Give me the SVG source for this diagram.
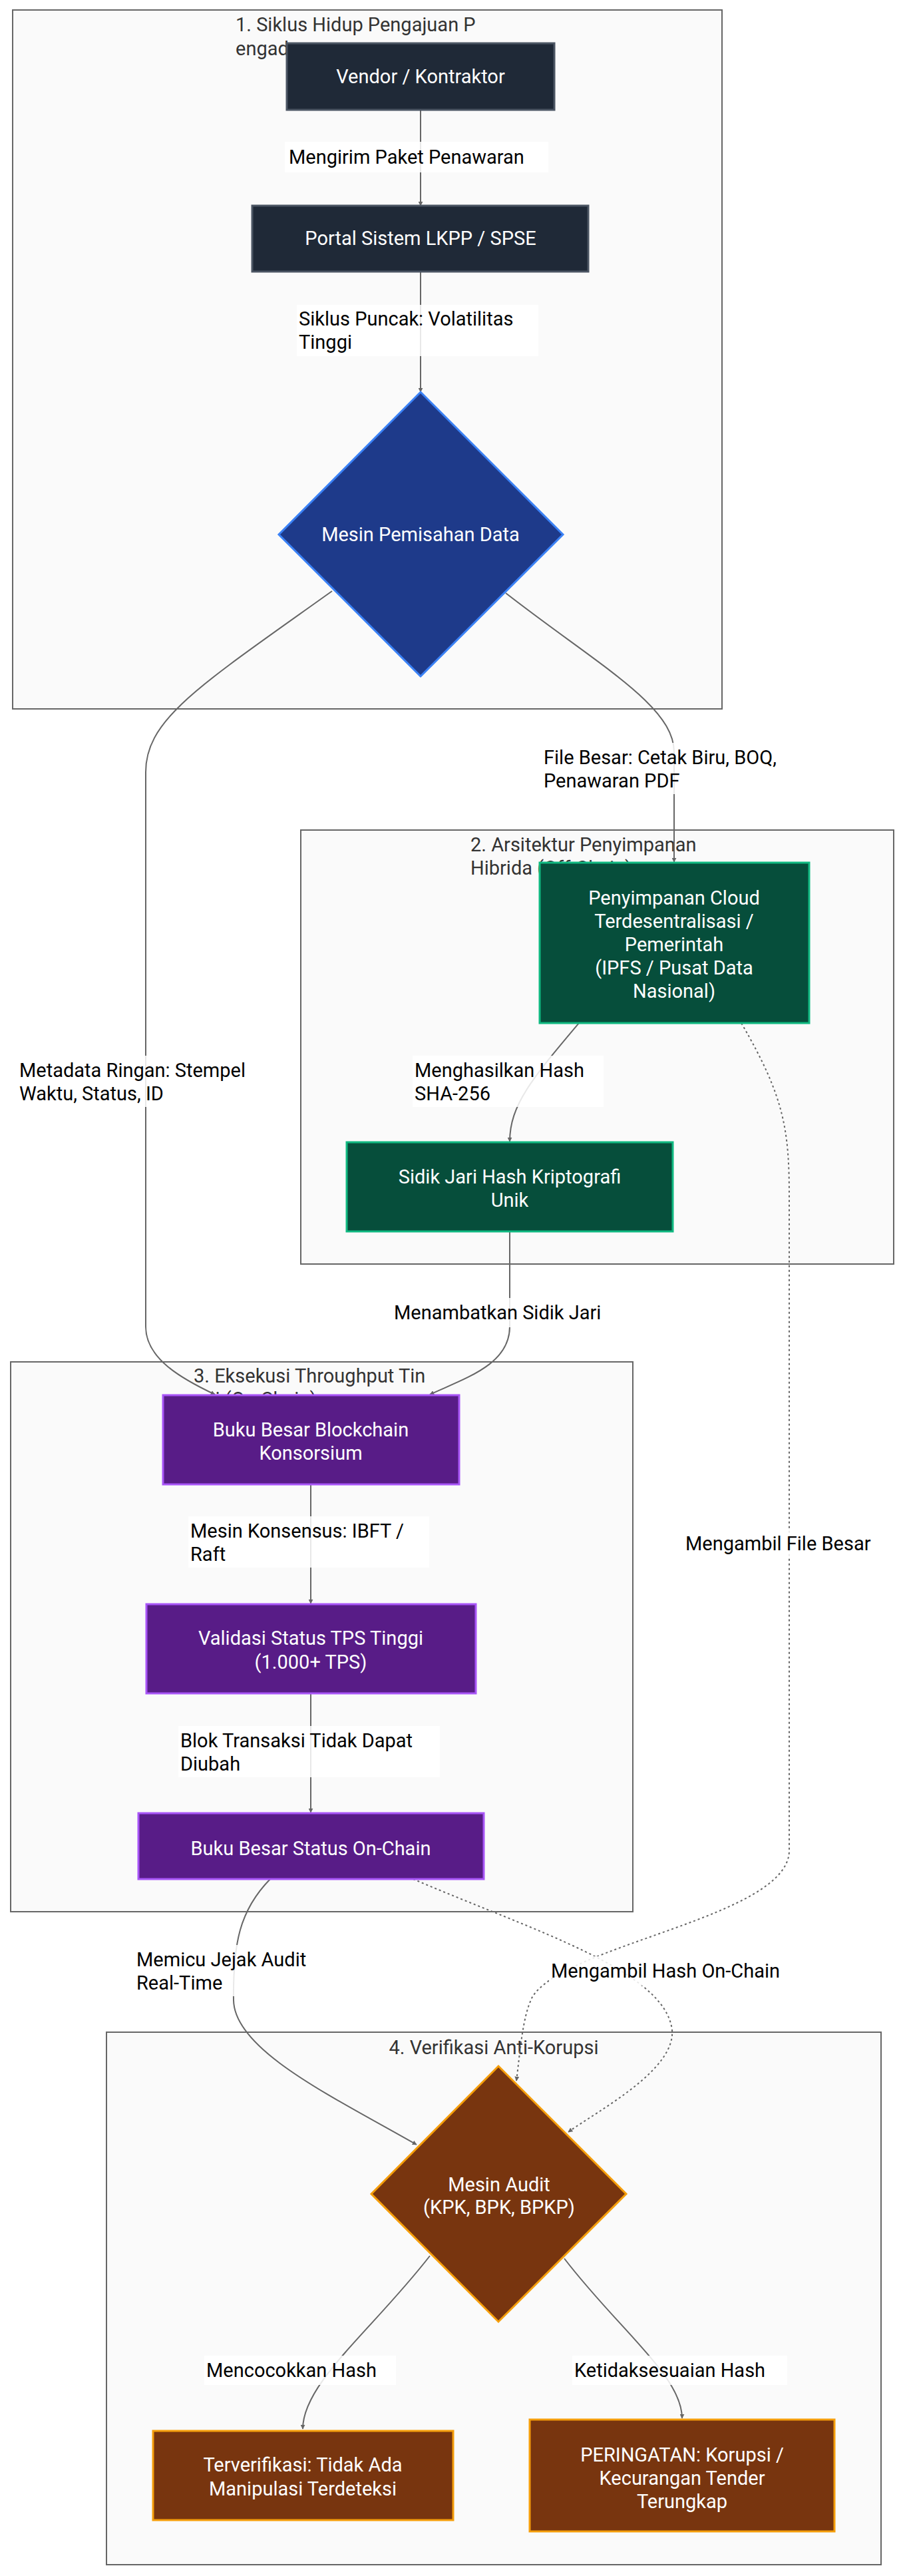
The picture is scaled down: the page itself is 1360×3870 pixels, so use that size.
<svg xmlns="http://www.w3.org/2000/svg" width="1360" height="3870" viewBox="0 0 1360 3870">
<style>
text{font-family:Roboto,"Liberation Sans",sans-serif;font-size:29px}
.cl{fill:#fafafa;stroke:#666;stroke-width:2}
.ct{fill:#333}
.nt{fill:#fff;text-anchor:middle}
.lt{fill:#000}
.lb{fill:#fff;opacity:0.85}
.dk{fill:#1f2937;stroke:#4b5563;stroke-width:3}
.bl{fill:#1e3a8a;stroke:#3b82f6;stroke-width:3}
.gr{fill:#064e3b;stroke:#10b981;stroke-width:3}
.pu{fill:#581c87;stroke:#a855f7;stroke-width:3}
.br{fill:#78350f;stroke:#f59e0b;stroke-width:3}
.e{fill:none;stroke:#666;stroke-width:2;marker-end:url(#ah)}
.d{stroke-dasharray:3 4}
</style>
<defs><marker id="ah" viewBox="0 0 10 10" refX="9" refY="5" markerWidth="7" markerHeight="7" orient="auto" markerUnits="userSpaceOnUse" ><path d="M0 0L10 5L0 10z" fill="#666"/></marker></defs>
<rect width="1360" height="3870" fill="#fff"/>
<g id="clusters">
<rect class="cl" x="19" y="15" width="1066" height="1050"/>
<text class="ct" x="354" y="47">1. Siklus Hidup Pengajuan P</text><text class="ct" x="354" y="83">engadaan</text>
<rect class="cl" x="452" y="1247" width="891" height="652"/>
<text class="ct" x="707" y="1279">2. Arsitektur Penyimpanan</text><text class="ct" x="707" y="1314">Hibrida (Off-Chain)</text>
<rect class="cl" x="16" y="2046" width="935" height="826"/>
<text class="ct" x="291" y="2077">3. Eksekusi Throughput Tin</text><text class="ct" x="291" y="2112">ggi (On-Chain)</text>
<rect class="cl" x="160" y="3053" width="1164" height="800"/>
<text class="ct" x="742" y="3086" text-anchor="middle">4. Verifikasi Anti-Korupsi</text>
</g>
<g id="connectors">
<path class="e" d="M632 165L632 309"/>
<path class="e" d="M632 408L632 589"/>
<path class="e" d="M499 888C300 1030 219 1080 219 1160L219 1993C219 2040 270 2070 323 2095"/>
<path class="e" d="M760 891C900 1000 1013 1060 1013 1130L1013 1295"/>
<path class="e" d="M870 1537C800 1620 766 1660 766 1715"/>
<path class="e" d="M766 1850L766 1993C766 2050 700 2070 646 2095"/>
<path class="e" d="M467 2230L467 2409"/>
<path class="e" d="M467 2544L467 2723"/>
<path class="e" d="M406 2823C360 2870 350 2920 351 3005C352 3080 500 3150 626 3222"/>
<path class="e d" d="M621 2823C800 2900 1000 2960 1010 3050C1015 3110 900 3170 854 3203"/>
<path class="e d" d="M1114 1537C1180 1650 1186 1700 1186 1800L1186 2780C1186 2880 850 2920 800 3000C785 3030 782 3080 776 3126"/>
<path class="e" d="M646 3389C560 3500 455 3580 455 3649"/>
<path class="e" d="M848 3393C930 3500 1025 3570 1025 3633"/>
<rect class="lb" x="428" y="213" width="396" height="46"/><text class="lt" x="434" y="246">Mengirim Paket Penawaran</text>
<rect class="lb" x="446" y="458" width="363" height="77"/><text class="lt" x="449" y="489">Siklus Puncak: Volatilitas</text><text class="lt" x="449" y="524">Tinggi</text>
<rect class="lb" x="814" y="1116" width="390" height="77"/><text class="lt" x="817" y="1148">File Besar: Cetak Biru, BOQ,</text><text class="lt" x="817" y="1183">Penawaran PDF</text>
<rect class="lb" x="26" y="1586" width="380" height="77"/><text class="lt" x="29" y="1618">Metadata Ringan: Stempel</text><text class="lt" x="29" y="1653">Waktu, Status, ID</text>
<rect class="lb" x="620" y="1586" width="287" height="77"/><text class="lt" x="623" y="1618">Menghasilkan Hash</text><text class="lt" x="623" y="1653">SHA-256</text>
<rect class="lb" x="589" y="1950" width="350" height="44"/><text class="lt" x="592" y="1982">Menambatkan Sidik Jari</text>
<rect class="lb" x="283" y="2278" width="362" height="77"/><text class="lt" x="286" y="2310">Mesin Konsensus: IBFT /</text><text class="lt" x="286" y="2345">Raft</text>
<rect class="lb" x="268" y="2593" width="393" height="77"/><text class="lt" x="271" y="2625">Blok Transaksi Tidak Dapat</text><text class="lt" x="271" y="2660">Diubah</text>
<rect class="lb" x="1027" y="2297" width="310" height="44"/><text class="lt" x="1030" y="2329">Mengambil File Besar</text>
<rect class="lb" x="202" y="2922" width="285" height="77"/><text class="lt" x="205" y="2954">Memicu Jejak Audit</text><text class="lt" x="205" y="2989">Real-Time</text>
<rect class="lb" x="825" y="2939" width="380" height="44"/><text class="lt" x="828" y="2971">Mengambil Hash On-Chain</text>
<rect class="lb" x="307" y="3539" width="288" height="44"/><text class="lt" x="310" y="3571">Mencocokkan Hash</text>
<rect class="lb" x="860" y="3539" width="323" height="44"/><text class="lt" x="863" y="3571">Ketidaksesuaian Hash</text>
</g>
<g id="vendor"><rect class="dk" x="431" y="65" width="402" height="100"/><text class="nt" x="632" y="125">Vendor / Kontraktor</text></g>
<g id="portal"><rect class="dk" x="379" y="309" width="505" height="99"/><text class="nt" x="632" y="368">Portal Sistem LKPP / SPSE</text></g>
<g id="splitter"><path class="bl" d="M632 589L846 803L632 1016L419 803Z"/><text class="nt" x="632" y="813">Mesin Pemisahan Data</text></g>
<g id="cloud"><rect class="gr" x="811" y="1296" width="405" height="241"/><text class="nt" x="1013" y="1359">Penyimpanan Cloud</text><text class="nt" x="1013" y="1394">Terdesentralisasi /</text><text class="nt" x="1013" y="1429">Pemerintah</text><text class="nt" x="1013" y="1464">(IPFS / Pusat Data</text><text class="nt" x="1013" y="1499">Nasional)</text></g>
<g id="hash"><rect class="gr" x="521" y="1716" width="490" height="134"/><text class="nt" x="766" y="1778">Sidik Jari Hash Kriptografi</text><text class="nt" x="766" y="1813">Unik</text></g>
<g id="ledger"><rect class="pu" x="245" y="2096" width="445" height="134"/><text class="nt" x="467" y="2158">Buku Besar Blockchain</text><text class="nt" x="467" y="2193">Konsorsium</text></g>
<g id="tps"><rect class="pu" x="220" y="2410" width="495" height="134"/><text class="nt" x="467" y="2471">Validasi Status TPS Tinggi</text><text class="nt" x="467" y="2507">(1.000+ TPS)</text></g>
<g id="state"><rect class="pu" x="208" y="2724" width="519" height="99"/><text class="nt" x="467" y="2787">Buku Besar Status On-Chain</text></g>
<g id="audit"><path class="br" d="M749 3104L941 3296L749 3488L558 3296Z"/><text class="nt" x="750" y="3292">Mesin Audit</text><text class="nt" x="750" y="3326">(KPK, BPK, BPKP)</text></g>
<g id="verified"><rect class="br" x="230" y="3652" width="451" height="134"/><text class="nt" x="455" y="3713">Terverifikasi: Tidak Ada</text><text class="nt" x="455" y="3749">Manipulasi Terdeteksi</text></g>
<g id="alert"><rect class="br" x="796" y="3635" width="458" height="168"/><text class="nt" x="1025" y="3698">PERINGATAN: Korupsi /</text><text class="nt" x="1025" y="3733">Kecurangan Tender</text><text class="nt" x="1025" y="3768">Terungkap</text></g>
</svg>
